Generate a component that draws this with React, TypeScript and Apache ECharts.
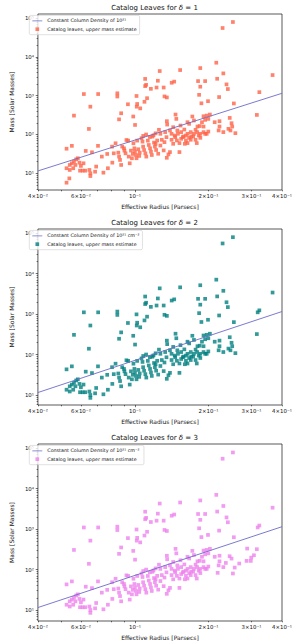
import React, { useEffect, useRef } from "react";
import * as echarts from "echarts";

// ---- data: [effective radius (pc), mass (Msun)] ----
const commonUpperLeaves: [number, number][] = [
  [0.0617, 1100], [0.0706, 1100], [0.0846, 1150], [0.0846, 950], [0.0656, 520], [0.0935, 600],
  [0.1014, 980], [0.1016, 520], [0.102, 610], [0.105, 470], [0.1093, 695], [0.11, 1760],
  [0.11, 2700], [0.111, 1900], [0.112, 860], [0.1161, 1500], [0.1225, 1620], [0.124, 2420],
  [0.1262, 4300], [0.131, 1620], [0.132, 955], [0.135, 900], [0.1413, 2150], [0.1447, 2300],
  [0.153, 4560], [0.1812, 2370], [0.185, 5130], [0.185, 1700], [0.183, 1050], [0.187, 635],
  [0.1937, 2370], [0.199, 720], [0.2152, 7050], [0.217, 2720], [0.221, 920], [0.2284, 55200],
  [0.23, 3740], [0.237, 1950], [0.24, 1480], [0.2517, 78800], [0.254, 630], [0.323, 1230],
  [0.366, 3390],
];

const commonMidLeaves: [number, number][] = [
  [0.0562, 306], [0.0647, 139], [0.0877, 352], [0.086, 245], [0.0983, 290], [0.1, 176],
  [0.3155, 319], [0.1465, 326], [0.1476, 252], [0.135, 220], [0.1354, 180], [0.1717, 290],
  [0.1908, 295], [0.1966, 307], [0.2026, 326], [0.1996, 252], [0.1937, 238], [0.212, 207],
  [0.2218, 220], [0.2218, 160], [0.22, 127], [0.23, 115], [0.1996, 119], [0.1908, 160],
  [0.188, 207], [0.1802, 160], [0.1743, 229], [0.164, 207], [0.1666, 188], [0.1535, 170],
  [0.1433, 154], [0.1253, 132], [0.127, 104], [0.1329, 115], [0.149, 127], [0.1592, 134],
  [0.177, 132], [0.184, 165],
];

const commonLowerLeftLeaves: [number, number][] = [
  [0.0524, 43], [0.0551, 51], [0.0628, 37.7], [0.0705, 51], [0.0666, 34.8], [0.0832, 59.3],
  [0.0805, 48.6], [0.0524, 13.5], [0.054, 16.4], [0.0551, 18.1], [0.0562, 20], [0.0574, 22.9],
  [0.0583, 24.4], [0.0592, 18.8], [0.057, 16.4], [0.06, 15.5], [0.0615, 18.1], [0.054, 12.2],
  [0.0558, 13.5], [0.0595, 11.7], [0.061, 11.7], [0.0625, 11.7], [0.0656, 10], [0.0656, 8.5],
  [0.065, 12.2], [0.0686, 11], [0.0693, 14.9], [0.0742, 10.4], [0.0731, 26.9], [0.0769, 31.5],
  [0.0774, 13.5], [0.0807, 18.8], [0.0818, 32.7], [0.0854, 34], [0.086, 26.9], [0.0868, 22.1],
  [0.0877, 16.4], [0.0886, 48.6], [0.0901, 44], [0.0905, 38.4], [0.0914, 32.7], [0.0922, 72],
  [0.0942, 26.9], [0.0951, 18.1], [0.0937, 69.5], [0.0962, 38.4], [0.0971, 24.4], [0.0979, 31.5],
  [0.0985, 59.3], [0.0994, 44], [0.0999, 36.1], [0.1009, 29.6], [0.1014, 24.4], [0.102, 69.5],
  [0.1031, 41.6], [0.104, 28], [0.1045, 34], [0.1063, 80], [0.1073, 65.5], [0.1079, 48.6],
  [0.1089, 39.8], [0.1102, 32.7], [0.1112, 26.9], [0.1128, 69.5], [0.1138, 53.7], [0.1152, 44],
  [0.1162, 36.1], [0.1171, 29.6], [0.1178, 88], [0.1196, 61.7], [0.1206, 48.6], [0.1214, 107],
  [0.122, 39.8], [0.108, 92], [0.111, 100], [0.115, 86], [0.119, 95],
];

const commonLowerRightLeaves: [number, number][] = [
  [0.1214, 57.5], [0.1232, 70], [0.127, 52], [0.1287, 73], [0.131, 38.9], [0.132, 63.5],
  [0.1345, 85.4], [0.137, 30.7], [0.139, 35.2], [0.1349, 25.1], [0.1244, 31.9], [0.139, 127],
  [0.1411, 104], [0.1411, 73], [0.1433, 57.5], [0.1454, 94], [0.1461, 85.4], [0.1484, 70],
  [0.1499, 104], [0.152, 60], [0.152, 35.2], [0.1545, 115], [0.1545, 77.4], [0.157, 85.4],
  [0.158, 89], [0.16, 57.5], [0.1616, 94], [0.1616, 70], [0.164, 104], [0.164, 60],
  [0.1666, 82], [0.1691, 115], [0.1691, 73], [0.17, 89], [0.173, 89], [0.1743, 104],
  [0.177, 73], [0.179, 60], [0.1796, 115], [0.1823, 94], [0.1851, 104], [0.1851, 82],
  [0.1908, 115], [0.1937, 104], [0.1966, 104],
];

const rightClusterDelta12: [number, number][] = [
  [0.2443, 267], [0.2485, 195], [0.2501, 160], [0.2413, 140], [0.246, 127], [0.2577, 108],
];
const rightClusterDelta3: [number, number][] = [
  [0.244, 214], [0.2485, 187], [0.2517, 80], [0.256, 112], [0.2672, 141], [0.2864, 164],
  [0.298, 164], [0.2993, 198], [0.307, 226], [0.288, 331], [0.218, 83], [0.2355, 146],
];
const lowLeavesDelta1: [number, number][] = [[0.0524, 5.74], [0.0538, 7.4]];
const extraLeavesDelta23: [number, number][] = [[0.318, 1100]];

// constant column density line (M ∝ R²)
const densityLine: [number, number][] = [[0.04, 11.5], [0.4, 1150]];

const deltas = [1, 2, 3];
const lineNames = [
  "Constant Column Density of 10\u00B2\u00B9",
  "Constant Column Density of 10\u00B2\u00B9 cm\u207B\u00B2",
  "Constant Column Density of 10\u00B2\u00B9 cm\u207B\u00B2 ",
];
const scatterNames = [
  "Catalog leaves, upper mass estimate",
  "Catalog leaves, upper mass estimate ",
  "Catalog leaves, upper mass estimate  ",
];
const scatterColors = ["#FF6347", "#008080", "#EE82EE"];

const xLabelTicks = [0.04, 0.06, 0.1, 0.2, 0.3, 0.4];
const xMajorTicks = [0.1];
const xMinorTicks = [0.04, 0.05, 0.06, 0.07, 0.08, 0.09, 0.2, 0.3, 0.4];
const yMajorTicks = [10, 100, 1000, 10000, 100000];
const yMinorTicks = [
  4, 5, 6, 7, 8, 9, 20, 30, 40, 50, 60, 70, 80, 90, 200, 300, 400, 500, 600, 700, 800, 900,
  2000, 3000, 4000, 5000, 6000, 7000, 8000, 9000, 20000, 30000, 40000, 50000, 60000, 70000,
  80000, 90000,
];

// layout
const FONT = "DejaVu Sans";
const GRID_LEFT = 27;
const GRID_WIDTH = 255;
const GRID_TOPS = [14, 229, 444];
const GRID_HEIGHTS = [176, 176, 177];
const Y_RANGES: [number, number][] = [[0.57, 5.103], [0.753, 5.099], [0.728, 5.106]];
const X_MIN = Math.log10(0.04);
const X_MAX = Math.log10(0.4);
const LINE_COLOR = "#6b6bc9";

const SUP: Record<string, string> = {
  "-": "\u207B", "0": "\u2070", "1": "\u00B9", "2": "\u00B2", "3": "\u00B3", "4": "\u2074",
  "5": "\u2075", "6": "\u2076", "7": "\u2077", "8": "\u2078", "9": "\u2079",
};
const sup = (n: number) => String(n).split("").map((c) => SUP[c]).join("");
const logLabel = (v: number) => {
  const e = Math.floor(v + 1e-9);
  const m = Math.round(Math.pow(10, v - e));
  return m === 1 ? `10${sup(e)}` : `${m}\u00D710${sup(e)}`;
};
const lg = (arr: number[]) => arr.map((v) => Math.log10(v));
const toLog = (pts: [number, number][]) => pts.map(([r, m]) => [Math.log10(r), Math.log10(m)]);

export default function App() {
  const ref = useRef<HTMLDivElement>(null);
  useEffect(() => {
    if (!ref.current) return;
    const chart = echarts.init(ref.current, undefined, { renderer: "svg" });

    const common = [
      ...commonUpperLeaves,
      ...commonMidLeaves,
      ...commonLowerLeftLeaves,
      ...commonLowerRightLeaves,
    ];
    const panels = [
      [...common, ...rightClusterDelta12, ...lowLeavesDelta1],
      [...common, ...rightClusterDelta12, ...extraLeavesDelta23],
      [...common, ...rightClusterDelta3, ...extraLeavesDelta23],
    ];

    const grid: any[] = [];
    const xAxis: any[] = [];
    const yAxis: any[] = [];
    const series: any[] = [];
    const legend: any[] = [];
    const graphic: any[] = [];

    deltas.forEach((d, i) => {
      const [ymin, ymax] = Y_RANGES[i];
      grid.push({
        left: GRID_LEFT,
        top: GRID_TOPS[i],
        width: GRID_WIDTH,
        height: GRID_HEIGHTS[i],
        show: true,
        borderColor: "#111",
        borderWidth: 0.7,
        backgroundColor: "#fff",
        containLabel: false,
      });
      const tickStyle = { color: "#111", width: 0.6 };
      xAxis.push({
        gridIndex: i,
        type: "value",
        position: "bottom",
        min: X_MIN - 1e-9,
        max: X_MAX + 1e-9,
        axisLine: { show: false },
        splitLine: { show: false },
        axisTick: { show: true, customValues: lg(xMajorTicks), length: 2.2, lineStyle: tickStyle },
        axisLabel: {
          customValues: lg(xLabelTicks),
          formatter: (v: number) => logLabel(v),
          fontSize: 5.4,
          fontFamily: FONT,
          color: "#111",
          margin: 3,
        },
        name: "Effective Radius [Parsecs]",
        nameLocation: "middle",
        nameGap: 13.5,
        nameTextStyle: { fontSize: 6, fontFamily: FONT, color: "#111", fontWeight: "normal" },
      });
      xAxis.push({
        gridIndex: i,
        type: "value",
        position: "bottom",
        min: X_MIN - 1e-9,
        max: X_MAX + 1e-9,
        axisLine: { show: false },
        splitLine: { show: false },
        axisTick: { show: true, customValues: lg(xMinorTicks), length: 1.3, lineStyle: tickStyle },
        axisLabel: { show: false },
      });
      yAxis.push({
        gridIndex: i,
        type: "value",
        position: "left",
        min: ymin,
        max: ymax,
        axisLine: { show: false },
        splitLine: { show: false },
        axisTick: { show: true, customValues: lg(yMajorTicks), length: 2.2, lineStyle: tickStyle },
        axisLabel: {
          customValues: lg(yMajorTicks),
          formatter: (v: number) => logLabel(v),
          fontSize: 5.4,
          fontFamily: FONT,
          color: "#111",
          margin: 4,
        },
        name: "Mass [Solar Masses]",
        nameLocation: "middle",
        nameGap: 17,
        nameRotate: 90,
        nameTextStyle: { fontSize: 6, fontFamily: FONT, color: "#111", fontWeight: "normal" },
      });
      yAxis.push({
        gridIndex: i,
        type: "value",
        position: "left",
        min: ymin,
        max: ymax,
        axisLine: { show: false },
        splitLine: { show: false },
        axisTick: {
          show: true,
          customValues: lg(yMinorTicks).filter((v) => v >= ymin && v <= ymax),
          length: 1.3,
          lineStyle: tickStyle,
        },
        axisLabel: { show: false },
      });

      series.push({
        type: "scatter",
        name: scatterNames[i],
        xAxisIndex: 2 * i,
        yAxisIndex: 2 * i,
        symbol: "rect",
        symbolSize: 3.7,
        itemStyle: { color: scatterColors[i] },
        data: toLog(panels[i]),
        z: 2,
      });
      series.push({
        type: "line",
        name: lineNames[i],
        xAxisIndex: 2 * i,
        yAxisIndex: 2 * i,
        symbol: "none",
        lineStyle: { color: LINE_COLOR, width: 0.9 },
        itemStyle: { color: LINE_COLOR },
        data: toLog(densityLine),
        z: 3,
      });

      legend.push({
        orient: "vertical",
        left: GRID_LEFT + 2.3,
        top: GRID_TOPS[i] + 1.4,
        padding: [3, 3, 3, 3],
        itemGap: 3.3,
        itemWidth: 10,
        itemHeight: 3.7,
        backgroundColor: "rgba(255,255,255,0.8)",
        borderColor: "#cccccc",
        borderWidth: 0.6,
        borderRadius: 1.5,
        symbolKeepAspect: true,
        textStyle: { fontSize: 4.8, fontFamily: FONT, color: "#111", lineHeight: 5 },
        selectedMode: false,
        data: [
          { name: lineNames[i], icon: "path://M0 0H40V3H0Z", itemStyle: { color: LINE_COLOR } },
          { name: scatterNames[i], icon: "path://M0 0H10V10H0Z" },
        ],
      });

      graphic.push({
        type: "text",
        x: GRID_LEFT + GRID_WIDTH / 2,
        y: GRID_TOPS[i] - 6.5,
        style: {
          text: `Catalog Leaves for {i|δ} = ${d}`,
          fontSize: 7,
          fontFamily: FONT,
          fill: "#111",
          align: "center",
          textAlign: "center",
          verticalAlign: "middle",
          textVerticalAlign: "middle",
          rich: { i: { fontStyle: "italic", fontSize: 7, fontFamily: FONT, fill: "#111" } },
        },
      });
    });

    chart.setOption({
      animation: false,
      backgroundColor: "#fff",
      textStyle: { fontFamily: FONT },
      grid,
      xAxis,
      yAxis,
      series,
      legend,
      graphic,
    });
    return () => chart.dispose();
  }, []);

  return (
    <div
      ref={ref}
      style={{ position: "fixed", left: 0, top: 0, width: 299, height: 644, background: "#fff" }}
    />
  );
}
